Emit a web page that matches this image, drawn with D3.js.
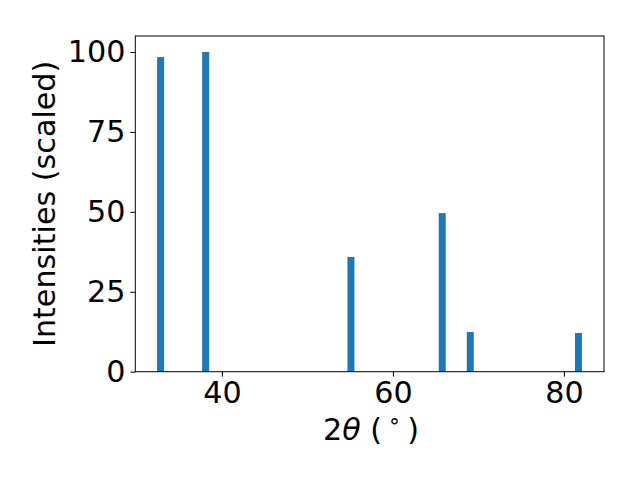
<!DOCTYPE html>
<html><head><meta charset="utf-8">
<script src="https://cdn.jsdelivr.net/npm/d3@7"></script>
<style>body{margin:0;background:#fff}svg{display:block}text{font-family:"DejaVu Sans",sans-serif}</style>
</head><body>
<script>
const positions = [32.83, 38.1, 55.09, 65.77, 69.05, 81.7];
const intensities = [98.4, 100, 35.9, 49.6, 12.4, 12.1];
const xTicks = [40, 60, 80];
const yTicks = [0, 25, 50, 75, 100];
const barWidth = 0.82;

const W = 640, H = 480, FS = 30.2;
const m = {l: 135.3, r: 604, t: 36, b: 371.7};
const svg = d3.select("body").append("svg").attr("width", W).attr("height", H);
const x = d3.scaleLinear().domain([29.87, 84.69]).range([m.l, m.r]);
const y = d3.scaleLinear().domain([0, 105]).range([m.b, m.t]);

svg.append("g").selectAll("rect").data(positions).join("rect")
  .attr("x", (d) => x(d - barWidth / 2))
  .attr("width", (d) => x(d + barWidth / 2) - x(d - barWidth / 2))
  .attr("y", (d, i) => y(intensities[i]))
  .attr("height", (d, i) => y(0) - y(intensities[i]))
  .attr("fill", "#1f77b4");

const xAxis = svg.append("g").attr("transform", `translate(0,${m.b})`)
  .call(d3.axisBottom(x).tickValues(xTicks).tickSize(4.9).tickPadding(5).tickFormat(d3.format("d")));
const yAxis = svg.append("g").attr("transform", `translate(${m.l},0)`)
  .call(d3.axisLeft(y).tickValues(yTicks).tickSize(4.9).tickPadding(5).tickFormat(d3.format("d")));
[xAxis, yAxis].forEach(g => {
  g.attr("font-size", FS).attr("font-family", "DejaVu Sans");
  g.select(".domain").remove();
  g.selectAll(".tick line").attr("stroke", "#000").attr("stroke-width", 1);
  g.selectAll(".tick text").attr("font-size", FS).attr("fill", "#000");
});

svg.append("rect").attr("x", m.l).attr("y", m.t).attr("width", m.r - m.l).attr("height", m.b - m.t)
  .attr("fill", "none").attr("stroke", "#000").attr("stroke-width", 1);

const xl = svg.append("text").attr("x", 371).attr("y", 440).attr("text-anchor", "middle")
  .attr("font-size", FS).attr("fill", "#000");
xl.append("tspan").text("2");
xl.append("tspan").attr("font-style", "italic").text("θ");
xl.append("tspan").text(" (");
xl.append("tspan").attr("font-size", FS * 0.7).attr("dy", -12).attr("dx", 6).text("∘");
xl.append("tspan").attr("dy", 12).attr("dx", 6).text(")");

svg.append("text").attr("transform", `translate(55,${(m.t + m.b) / 2}) rotate(-90)`)
  .attr("text-anchor", "middle").attr("font-size", FS).attr("fill", "#000")
  .text("Intensities (scaled)");
</script>
</body></html>
